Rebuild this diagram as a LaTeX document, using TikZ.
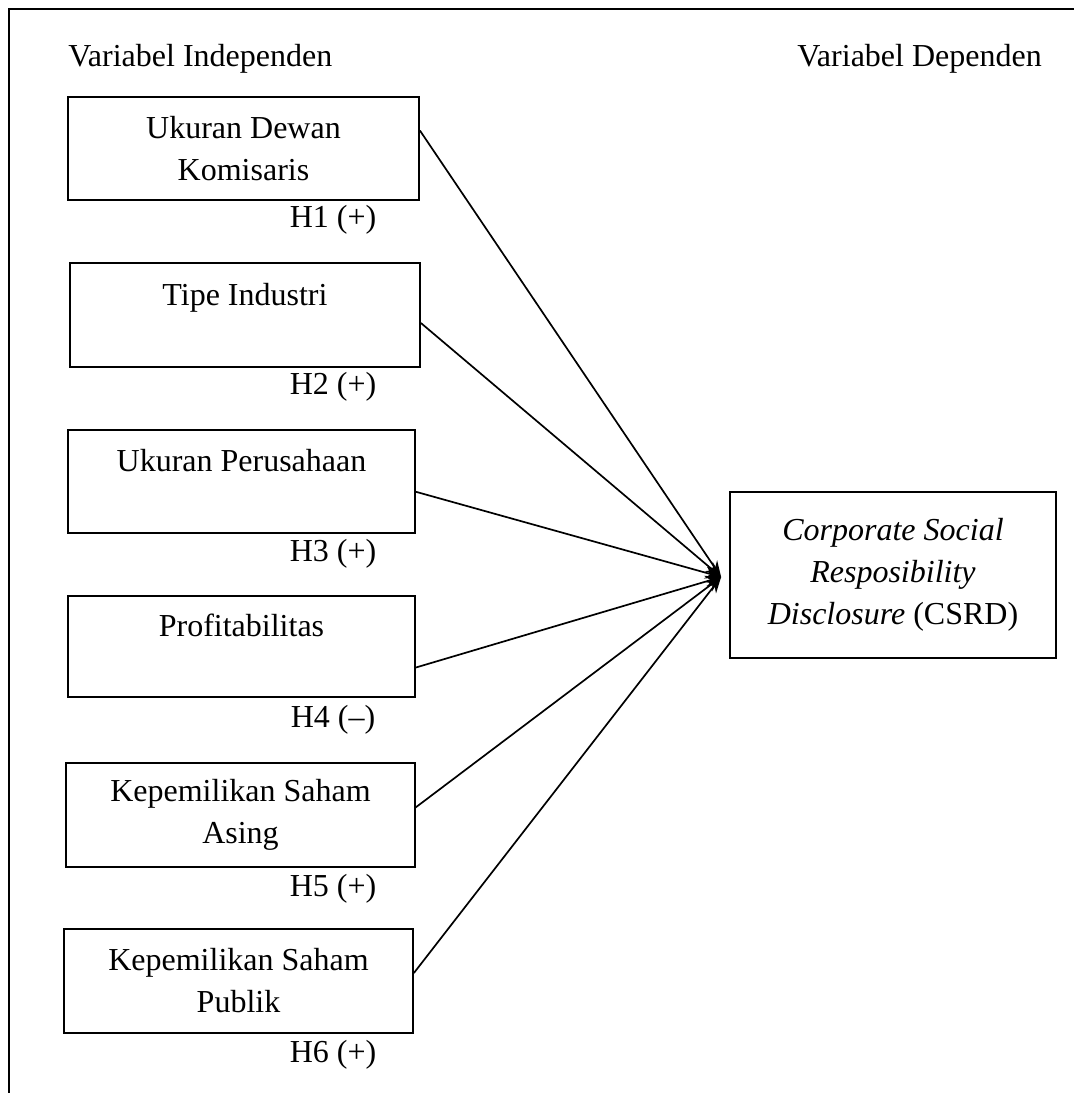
\documentclass[tikz,border=0pt]{standalone}
\usepackage{fontspec}
\setmainfont{Liberation Serif}
\usetikzlibrary{arrows.meta,calc}
\begin{document}
\begin{tikzpicture}[x=0.5pt,y=-0.5pt,
  varbox/.style={draw,line width=0.9pt,align=center,inner sep=0pt,
    font=\fontsize{16}{21}\selectfont},
  plain/.style={inner sep=0pt,font=\fontsize{16}{21}\selectfont},
  link/.style={line width=0.85pt,-{Stealth[length=8pt,width=6pt]}}]
\useasboundingbox (0,0) rectangle (1074,1093);
\draw[line width=1.3pt] (9,1093) -- (9,9) -- (1074,9);

\node[plain,anchor=base west] (vi) at (68,66) {Variabel Independen};
\node[plain,anchor=base west] (vd) at (797,66) {Variabel Dependen};

\node[varbox,minimum width=175.5pt,minimum height=51.5pt] (b1) at (243.5,148.5) {Ukuran Dewan\\Komisaris};
\node[varbox,minimum width=175pt,minimum height=52pt] (b2) at (245,315) {Tipe Industri\\\mbox{}};
\node[varbox,minimum width=173.5pt,minimum height=51.5pt] (b3) at (241.5,481.5) {Ukuran Perusahaan\\\mbox{}};
\node[varbox,minimum width=173.5pt,minimum height=50.5pt] (b4) at (241.5,646.5) {Profitabilitas\\\mbox{}};
\node[varbox,minimum width=174.5pt,minimum height=52pt] (b5) at (240.5,815) {Kepemilikan Saham\\Asing};
\node[varbox,minimum width=174.5pt,minimum height=52pt] (b6) at (238.5,981) {Kepemilikan Saham\\Publik};

\node[varbox,minimum width=163pt,minimum height=83pt] (csrd) at (893,575) {\textit{Corporate Social}\\\textit{Resposibility}\\\textit{Disclosure} (CSRD)};

\node[plain,anchor=base] (h1) at (333,227) {H1 (+)};
\node[plain,anchor=base] (h2) at (333,394) {H2 (+)};
\node[plain,anchor=base] (h3) at (333,561) {H3 (+)};
\node[plain,anchor=base] (h4) at (333,727) {H4 (–)};
\node[plain,anchor=base] (h5) at (333,896) {H5 (+)};
\node[plain,anchor=base] (h6) at (333,1062) {H6 (+)};

\coordinate (tip) at ([xshift=-4pt,yshift=-1pt]csrd.west);
\coordinate (s1) at ([yshift=9pt]b1.east);
\coordinate (s2) at ([yshift=-4pt]b2.east);
\coordinate (s3) at ([xshift=-0.5pt,yshift=-5pt]b3.east);
\coordinate (s4) at ([yshift=-10.5pt]b4.east);
\coordinate (s5) at ([xshift=-0.5pt,yshift=3.5pt]b5.east);
\coordinate (s6) at ([yshift=4pt]b6.east);
\foreach \s in {s1,s2,s3,s4,s5,s6}
  \draw[link] (\s) -- (tip);
\end{tikzpicture}
\end{document}
